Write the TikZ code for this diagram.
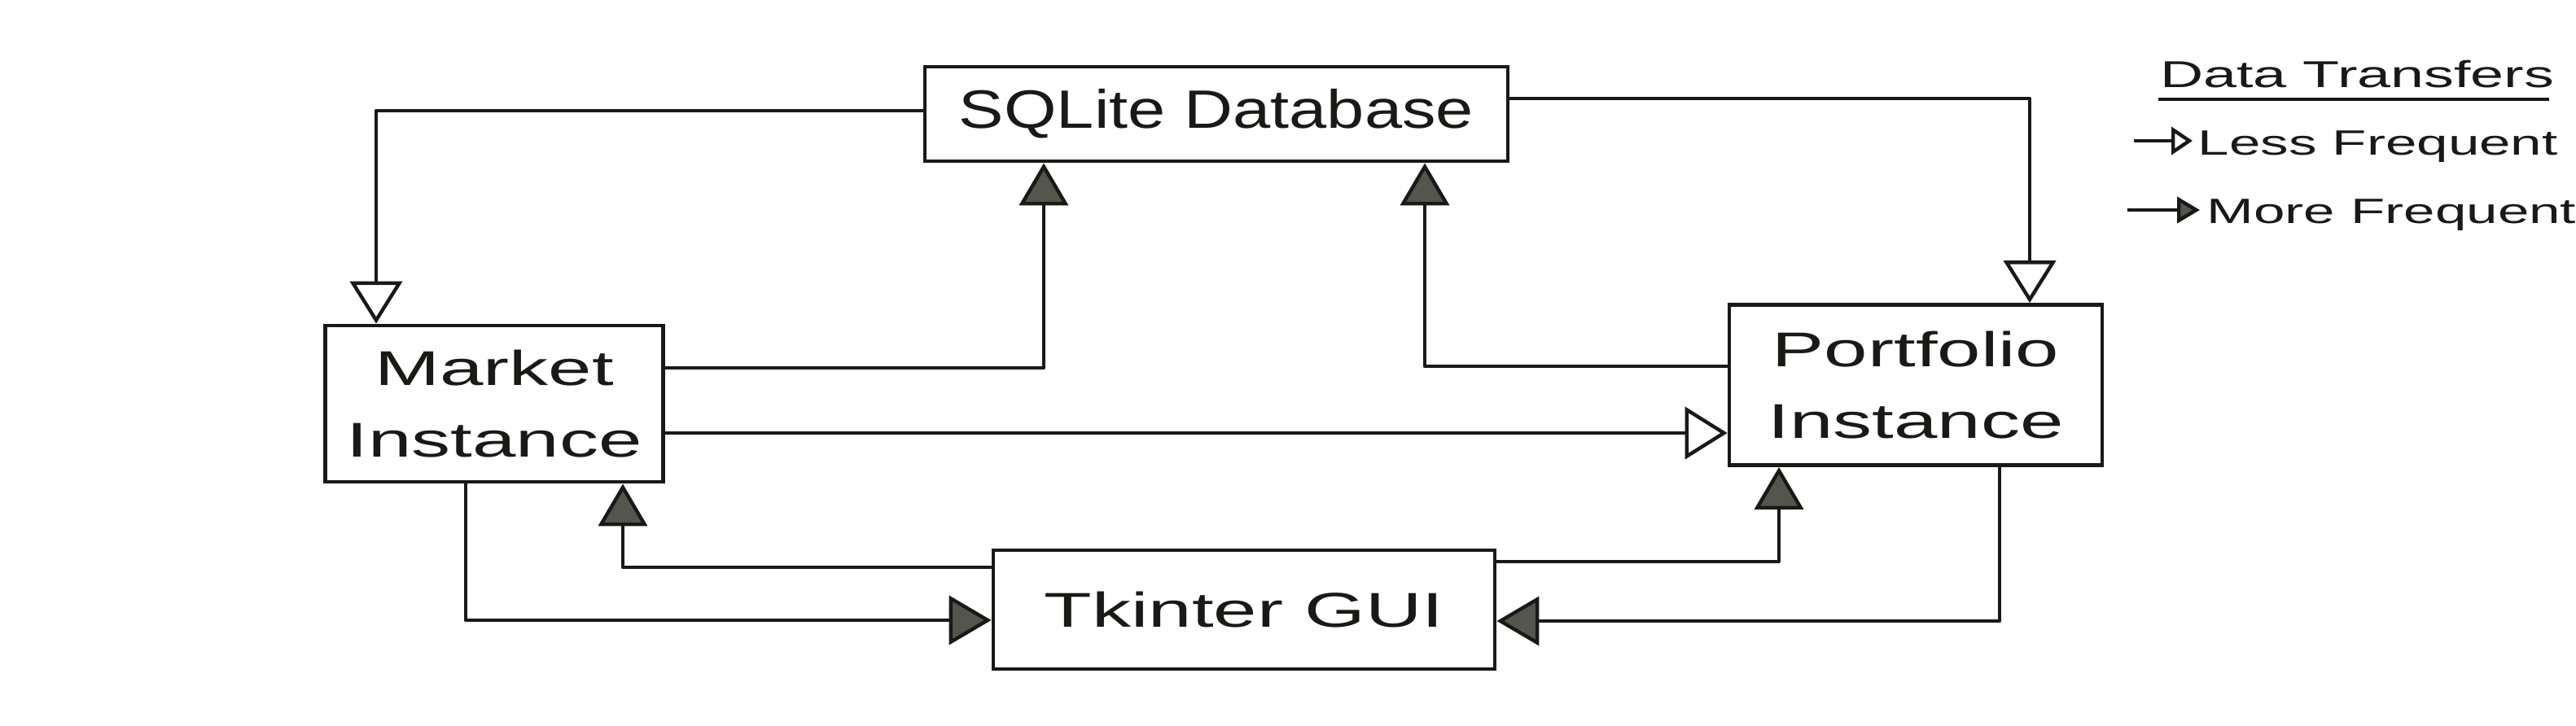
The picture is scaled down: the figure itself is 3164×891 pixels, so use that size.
\documentclass[tikz,border=0pt]{standalone}
\usepackage{fontspec}
\setmainfont{Liberation Sans}
\newfontfamily\handw[FakeStretch=1.6]{Liberation Sans}
\newfontfamily\handn[FakeStretch=1.25]{Liberation Sans}
\usetikzlibrary{arrows.meta}
\definecolor{ink}{RGB}{25,25,22}
\definecolor{tipgray}{RGB}{85,85,78}
\begin{document}
\begin{tikzpicture}[x=0.25pt,y=-0.25pt,
  box/.style={draw=ink,line width=1.2pt,fill=white,inner sep=0pt,align=center,text=ink},
  boxtext/.style={font=\handw\fontsize{15}{22}\selectfont},
  conn/.style={draw=ink,line width=1.1pt,line join=round},
  less/.style={conn,-{Triangle[open,length=13pt,width=16pt]}},
  more/.style={conn,-{Triangle[length=13pt,width=15pt,fill=tipgray]}},
  lesssmall/.style={conn,-{Triangle[open,length=6.5pt,width=8.5pt]}},
  moresmall/.style={conn,-{Triangle[length=7pt,width=8pt,fill=tipgray]}},
  legtext/.style={anchor=base west,inner sep=0pt,text=ink,font=\handw\fontsize{10.8}{13}\selectfont}
]
\fill[white] (0,0) rectangle (3164,891);
\useasboundingbox (0,0) rectangle (3164,891);

% boxes
\node[box,minimum width=179pt,minimum height=29pt,font=\handn\fontsize{16.6}{20}\selectfont] (sql) at (1494,140) {SQLite Database};
\node[box,boxtext,minimum width=103.75pt,minimum height=48pt] (mkt) at (607,496) {Market\\Instance};
\node[box,boxtext,minimum width=114.5pt,minimum height=49.25pt] (prt) at (2353,473) {Portfolio\\Instance};
\node[box,boxtext,minimum width=154pt,minimum height=36.5pt] (tk) at (1528,749) {Tkinter GUI};

% helper coordinates
\coordinate (h1) at (0,136);  \coordinate (v1) at (462,0);
\coordinate (h2) at (0,121);  \coordinate (v2) at (2493,0);
\coordinate (h3) at (0,452);  \coordinate (v3) at (1282,0);
\coordinate (h4) at (0,450);  \coordinate (v4) at (1750,0);
\coordinate (h5) at (0,532);
\coordinate (v6) at (572,0);  \coordinate (h6) at (0,762);
\coordinate (h7) at (0,697);  \coordinate (v7) at (765,0);
\coordinate (h8) at (0,690);  \coordinate (v8) at (2185,0);
\coordinate (v9) at (2456,0); \coordinate (h9) at (0,763);

% connectors
\draw[less] (sql.west |- h1) -| (mkt.north -| v1);
\draw[less] (sql.east |- h2) -| (prt.north -| v2);
\draw[more] (mkt.east |- h3) -| (sql.south -| v3);
\draw[more] (prt.west |- h4) -| (sql.south -| v4);
\draw[less] (mkt.east |- h5) -- (prt.west |- h5);
\draw[more] (mkt.south -| v6) |- (tk.west |- h6);
\draw[more] (tk.west |- h7) -| (mkt.south -| v7);
\draw[more] (tk.east |- h8) -| (prt.south -| v8);
\draw[more] (prt.south -| v9) |- (tk.east |- h9);

% legend
\node[anchor=base,inner sep=0pt,text=ink,font=\handw\fontsize{11.5}{14}\selectfont] (ttl) at (2895,107) {Data Transfers};
\coordinate (ul1) at (2651,122); \coordinate (ul2) at (3131,122);
\draw[conn] (ul1) -- (ul2);
\node[legtext] (lf) at (2699,190) {Less Frequent};
\coordinate (lfs) at (2621,173); \coordinate (lfe) at (2693,173);
\draw[lesssmall] (lfs) -- (lfe);
\node[legtext] (mf) at (2710,274) {More Frequent};
\coordinate (mfs) at (2613,258); \coordinate (mfe) at (2702,258);
\draw[moresmall] (mfs) -- (mfe);
\end{tikzpicture}
\end{document}
